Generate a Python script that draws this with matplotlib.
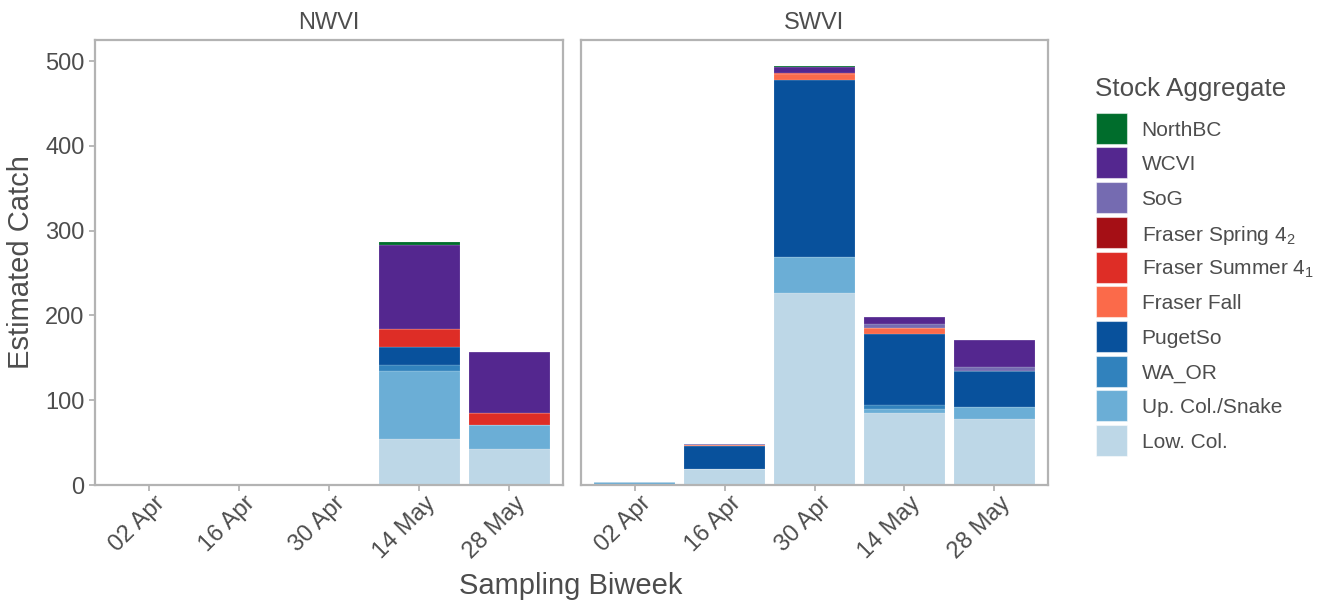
import matplotlib
matplotlib.use("Agg")
import matplotlib.pyplot as plt
import matplotlib.transforms as mtransforms
from matplotlib.patches import Rectangle
import numpy as np

plt.rcParams['font.family'] = ['Liberation Sans', 'DejaVu Sans']
plt.rcParams['mathtext.fontset'] = 'custom'
plt.rcParams['mathtext.rm'] = 'Liberation Sans'
plt.rcParams['mathtext.it'] = 'Liberation Sans'

biweeks = ["02 Apr", "16 Apr", "30 Apr", "14 May", "28 May"]
regions = ["NWVI", "SWVI"]

stocks = ["Low. Col.", "Up. Col./Snake", "WA_OR", "PugetSo", "Fraser Fall",
          "Fraser Summer 4$_\\mathregular{1}$", "Fraser Spring 4$_\\mathregular{2}$",
          "SoG", "WCVI", "NorthBC"]
colors = ["#bdd7e7", "#6baed6", "#3182bd", "#08519c", "#fb6a4a",
          "#de2d26", "#a50f15", "#756bb1", "#54278f", "#006d2c"]

# NWVI values per biweek
nwvi_low_col   = [0, 0, 0, 54, 42.5]
nwvi_up_col    = [0, 0, 0, 80, 28]
nwvi_wa_or     = [0, 0, 0, 7, 0]
nwvi_pugetso   = [0, 0, 0, 22, 0]
nwvi_fr_fall   = [0, 0, 0, 0, 0]
nwvi_fr_summer = [0, 0, 0, 21, 14.5]
nwvi_fr_spring = [0, 0, 0, 0, 0]
nwvi_sog       = [0, 0, 0, 0, 0]
nwvi_wcvi      = [0, 0, 0, 99, 72]
nwvi_northbc   = [0, 0, 0, 3, 0]

# SWVI values per biweek
swvi_low_col   = [0, 18.5, 227, 84.5, 77.5]
swvi_up_col    = [4, 0.5, 42, 5, 15]
swvi_wa_or     = [0, 0, 0, 5, 0]
swvi_pugetso   = [0, 27, 209, 83.5, 42.5]
swvi_fr_fall   = [0, 1.5, 7, 7, 0]
swvi_fr_summer = [0, 0, 1.2, 0, 0]
swvi_fr_spring = [0, 0, 0, 0, 0]
swvi_sog       = [0, 1, 0, 5, 4]
swvi_wcvi      = [0, 0, 7, 8, 32]
swvi_northbc   = [0, 0, 1.5, 0, 0]

data = {
    "NWVI": [nwvi_low_col, nwvi_up_col, nwvi_wa_or, nwvi_pugetso, nwvi_fr_fall,
             nwvi_fr_summer, nwvi_fr_spring, nwvi_sog, nwvi_wcvi, nwvi_northbc],
    "SWVI": [swvi_low_col, swvi_up_col, swvi_wa_or, swvi_pugetso, swvi_fr_fall,
             swvi_fr_summer, swvi_fr_spring, swvi_sog, swvi_wcvi, swvi_northbc],
}

W, H = 1318, 604
fig = plt.figure(figsize=(W / 100, H / 100), dpi=100)

txt = "#4d4d4d"
grey = "#b3b3b3"
panel_x = [(95, 563), (581, 1048)]
top_px, bot_px = 40, 485

x = np.arange(len(biweeks))
for i, reg in enumerate(regions):
    x0, x1 = panel_x[i]
    ax = fig.add_axes([x0 / W, 1 - bot_px / H, (x1 - x0) / W, (bot_px - top_px) / H])
    bottom = np.zeros(len(biweeks))
    for vals, col in zip(data[reg], colors):
        v = np.array(vals, dtype=float)
        ax.bar(x, v, width=0.9, bottom=bottom, color=col,
               edgecolor=(1, 1, 1, 0.3), linewidth=0.35)
        bottom += v
    ax.set_xlim(-0.6, len(biweeks) - 1 + 0.6)
    ax.set_ylim(0, 524.8)
    ax.set_xticks(x)
    ax.set_xticklabels([])
    lab_tr = mtransforms.blended_transform_factory(ax.transData, ax.transAxes) + \
        mtransforms.ScaledTranslation(13 / 100, -15 / 100, fig.dpi_scale_trans)
    for xi, lab in zip(x, biweeks):
        ax.text(xi, 0, lab, transform=lab_tr, rotation=45, ha='right', va='center',
                rotation_mode='anchor', fontsize=17, color=txt)
    ax.set_yticks([0, 100, 200, 300, 400, 500])
    if i == 0:
        ax.set_yticklabels(["0", "100", "200", "300", "400", "500"], fontsize=17, color=txt)
    else:
        ax.set_yticklabels([])
    ax.tick_params(axis='both', color=grey, width=1.3, length=4.5, pad=3)
    ax.tick_params(axis='y', left=(i == 0))
    for s in ax.spines.values():
        s.set_color(grey)
        s.set_linewidth(1.6)
    ax.set_title(reg, fontsize=17, color=txt, pad=8)

fig.text(21 / W, 1 - 262 / H, "Estimated Catch", rotation=90, ha='center', va='center',
         fontsize=21, color=txt)
fig.text(571 / W, 1 - 586 / H, "Sampling Biweek", ha='center', va='center',
         fontsize=21, color=txt)

# legend (ggplot-style: square keys, labels to the right)
fig.text(1095 / W, 1 - 96 / H, "Stock Aggregate", ha='left', va='baseline',
         fontsize=18.7, color=txt)
key_x, key_w, key_top0, key_pitch = 1096, 31, 112.7, 34.7
for j, (s, c) in enumerate(zip(stocks[::-1], colors[::-1])):
    top = key_top0 + j * key_pitch
    fig.add_artist(Rectangle((key_x / W, 1 - (top + key_w) / H), key_w / W, key_w / H,
                             transform=fig.transFigure, facecolor=c,
                             edgecolor=(1, 1, 1, 0.5), linewidth=0.8))
    fig.text(1141.5 / W, 1 - (top + key_w / 2) / H, s, ha='left', va='center_baseline',
             fontsize=15, color=txt)

fig.savefig("out.png", dpi=100, facecolor='white')
